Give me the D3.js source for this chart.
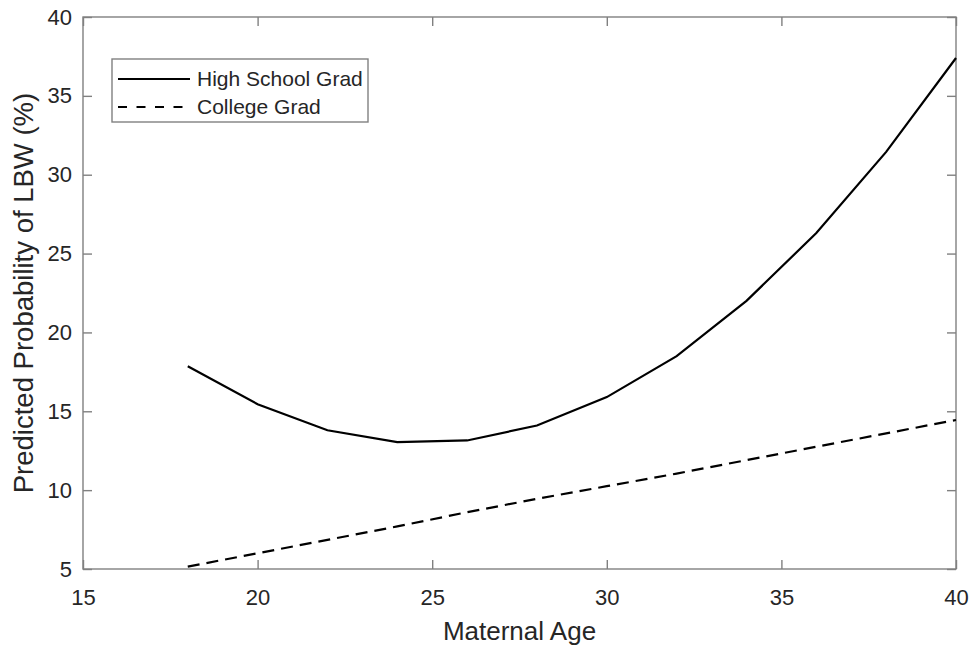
<!DOCTYPE html>
<html><head><meta charset="utf-8">
<script src="https://cdn.jsdelivr.net/npm/d3@7/dist/d3.min.js"></script>
<style>body{margin:0;background:#fff;} text{font-family:"Liberation Sans",Arial,Helvetica,sans-serif;}</style>
</head><body>
<svg id="chart" width="972" height="649"></svg>
<script>
const ages = [18,20,22,24,26,28,30,32,34,36,38,40];
const highSchool = [17.85,15.45,13.8,13.05,13.15,14.1,15.9,18.5,22.0,26.3,31.45,37.4];
const college = [5.15,6.0,6.85,7.7,8.6,9.45,10.25,11.05,11.9,12.75,13.6,14.45];
const xTicks = [15,20,25,30,35,40];
const yTicks = [5,10,15,20,25,30,35,40];
const seriesNames = ["High School Grad","College Grad"];

const W=972,H=649, L=83, R=956, T=17, B=569;
const svg=d3.select("#chart");
const x=d3.scaleLinear().domain([15,40]).range([L,R]);
const y=d3.scaleLinear().domain([5,40]).range([B,T]);
const axisCol="#808080", textCol="#262626", tl=9;

// box
svg.append("rect").attr("x",L).attr("y",T).attr("width",R-L).attr("height",B-T)
  .attr("fill","none").attr("stroke",axisCol).attr("stroke-width",1.4);

// axes
const ax=svg.append("g").attr("transform",`translate(0,${B})`)
  .call(d3.axisBottom(x).tickValues(xTicks).tickSize(-tl).tickPadding(20).tickFormat(d3.format("d")));
const axTop=svg.append("g").attr("transform",`translate(0,${T})`)
  .call(d3.axisTop(x).tickValues(xTicks).tickSize(-tl).tickFormat(""));
const ay=svg.append("g").attr("transform",`translate(${L},0)`)
  .call(d3.axisLeft(y).tickValues(yTicks).tickSize(-tl).tickPadding(11).tickFormat(d3.format("d")));
const ayR=svg.append("g").attr("transform",`translate(${R},0)`)
  .call(d3.axisRight(y).tickValues(yTicks).tickSize(-tl).tickFormat(""));
[ax,axTop,ay,ayR].forEach(g=>{
  g.select(".domain").remove();
  g.selectAll(".tick line").attr("stroke",axisCol).attr("stroke-width",1.4);
  g.selectAll(".tick text").attr("fill",textCol).style("font-size","22px")
   .style("font-family",'"Liberation Sans",Arial,sans-serif');
});

// labels
svg.append("text").attr("x",(L+R)/2).attr("y",640).attr("text-anchor","middle")
  .attr("fill",textCol).style("font-size","26px").text("Maternal Age");
svg.append("text").attr("transform",`translate(33,${(T+B)/2}) rotate(-90)`).attr("text-anchor","middle")
  .attr("fill",textCol).style("font-size","27.5px").text("Predicted Probability of LBW (%)");

// lines
const line=d3.line().x((d,i)=>x(ages[i])).y(d=>y(d));
svg.append("path").datum(highSchool).attr("d",line).attr("fill","none")
  .attr("stroke","#000").attr("stroke-width",2.2);
svg.append("path").datum(college).attr("d",line).attr("fill","none")
  .attr("stroke","#000").attr("stroke-width",2.2).attr("stroke-dasharray","12,7");

// legend
const lg=svg.append("g");
lg.append("rect").attr("x",112).attr("y",59).attr("width",256).attr("height",63)
  .attr("fill","#fff").attr("stroke",axisCol).attr("stroke-width",1.4);
const dashes=[null,"9,9.5"];
seriesNames.forEach((n,i)=>{
  const yy=79+i*28;
  lg.append("line").attr("x1",118).attr("x2",190).attr("y1",yy).attr("y2",yy)
    .attr("stroke","#000").attr("stroke-width",2.2).attr("stroke-dasharray",dashes[i]);
  lg.append("text").attr("x",197).attr("y",yy).attr("dy","0.35em").attr("fill",textCol)
    .style("font-size","21px").text(n);
});
</script>
</body></html>
